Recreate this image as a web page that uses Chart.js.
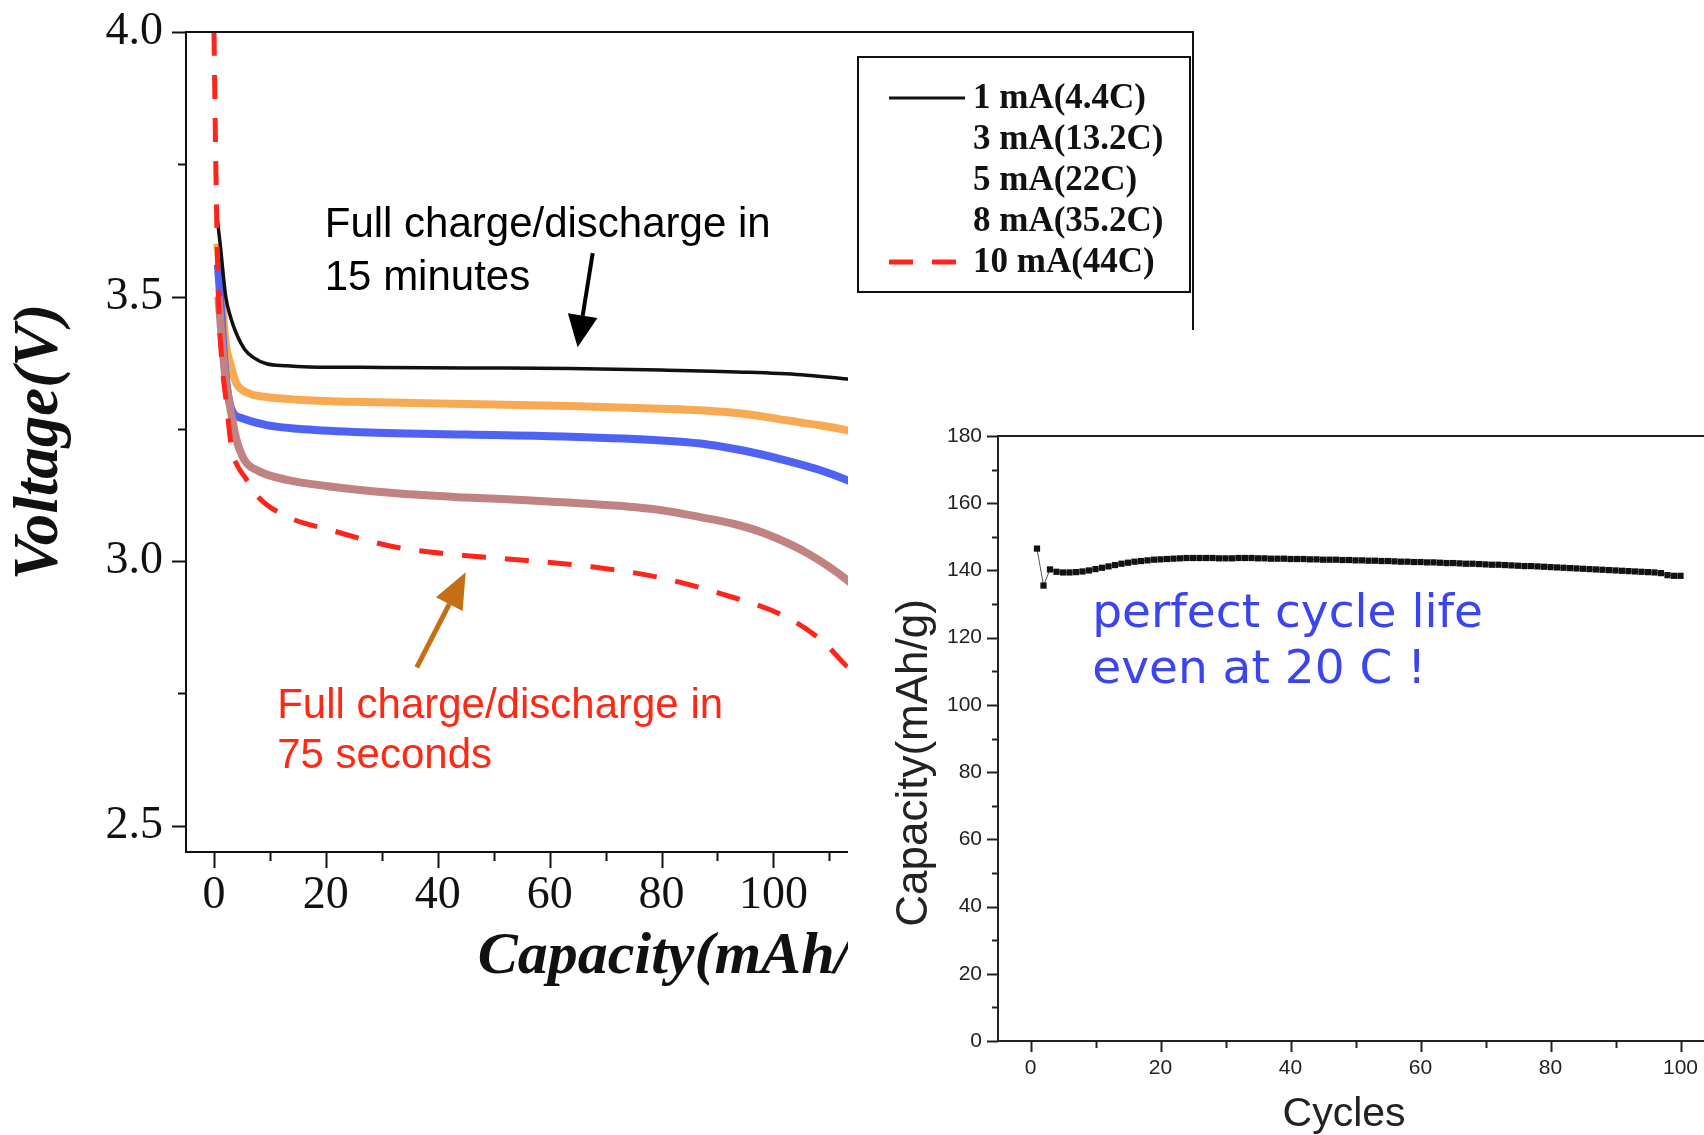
<!DOCTYPE html>
<html>
<head>
<meta charset="utf-8">
<script src="https://cdn.jsdelivr.net/npm/chart.js@4.4.1/dist/chart.umd.min.js"></script>
<style>
  html, body { margin: 0; padding: 0; background: #fff; overflow: hidden; }
  #lienzo { position: relative; width: 1704px; height: 1135px; overflow: hidden; background: #fff; }
  #voltaje { position: absolute; left: 0; top: 0; }
  #recuadro { position: absolute; left: 848px; top: 330px; width: 900px; height: 809px; background: #fff; }
</style>
</head>
<body>
<div id="lienzo">
  <canvas id="voltaje" width="1704" height="1135"></canvas>
  <div id="recuadro"><canvas id="ciclos" width="900" height="809"></canvas></div>
</div>
<script>
// ---- curvas de descarga (capacidad mAh/g, voltaje V) ----
var nombresSeries = ["1 mA(4.4C)", "3 mA(13.2C)", "5 mA(22C)", "8 mA(35.2C)", "10 mA(44C)"];

var cap1mA = [0.45, 1.1, 2.1, 3, 4, 5.5, 7, 9.4, 13, 17, 30, 45, 63.6, 80, 94.6, 105, 113.2, 120];
var volt1mA = [3.66, 3.6, 3.5, 3.46, 3.43, 3.40, 3.385, 3.373, 3.369, 3.367, 3.366, 3.365, 3.364, 3.361, 3.357, 3.352, 3.344, 3.338];

var cap3mA = [0.6, 1.3, 2, 3, 4, 6, 9.4, 15, 25, 45, 63.6, 80, 87, 95, 102.3, 108, 113.2, 120];
var volt3mA = [3.6, 3.52, 3.42, 3.37, 3.336, 3.318, 3.31, 3.305, 3.301, 3.297, 3.293, 3.288, 3.285, 3.278, 3.266, 3.257, 3.247, 3.23];

var cap5mA = [0.7, 1.3, 2, 3.2, 5, 9.4, 15, 25, 45, 63.6, 80, 87, 94.6, 102.3, 108, 113.2, 120];
var volt5mA = [3.56, 3.47, 3.36, 3.285, 3.27, 3.257, 3.25, 3.244, 3.239, 3.235, 3.228, 3.222, 3.209, 3.19, 3.173, 3.153, 3.12];

var cap8mA = [0.8, 1.4, 2, 2.9, 4, 5.5, 8, 13.3, 20, 32.6, 45, 55.9, 71.4, 80, 86.9, 93, 98.5, 106.2, 113.2, 120];
var volt8mA = [3.5, 3.42, 3.35, 3.29, 3.23, 3.19, 3.17, 3.153, 3.142, 3.128, 3.12, 3.115, 3.105, 3.096, 3.083, 3.07, 3.052, 3.014, 2.964, 2.9];

var cap10mA = [0, 0.4, 0.8, 1.4, 2.2, 3.2, 4.2, 5.5, 8, 13.3, 21, 32.6, 44.3, 55.9, 67.5, 79.1, 90.7, 102.3, 108.6, 113.2, 120];
var volt10mA = [4.0, 3.7, 3.5, 3.38, 3.30, 3.21, 3.18, 3.159, 3.12, 3.083, 3.058, 3.026, 3.011, 3.001, 2.989, 2.970, 2.938, 2.894, 2.85, 2.80, 2.73];

var marcasVoltaje = [2.5, 2.75, 3.0, 3.25, 3.5, 3.75, 4.0];
var marcasCapacidad = [0, 10, 20, 30, 40, 50, 60, 70, 80, 90, 100, 110, 120, 130, 140, 150, 160, 170];

// ---- ciclado a 20 C ----
var ciclos = [1, 2, 3, 4, 5, 6, 7, 8, 9, 10, 11, 12, 13, 14, 15, 16, 17, 18, 19, 20,
  21, 22, 23, 24, 25, 26, 27, 28, 29, 30, 31, 32, 33, 34, 35, 36, 37, 38, 39, 40,
  41, 42, 43, 44, 45, 46, 47, 48, 49, 50, 51, 52, 53, 54, 55, 56, 57, 58, 59, 60,
  61, 62, 63, 64, 65, 66, 67, 68, 69, 70, 71, 72, 73, 74, 75, 76, 77, 78, 79, 80,
  81, 82, 83, 84, 85, 86, 87, 88, 89, 90, 91, 92, 93, 94, 95, 96, 97, 98, 99, 100];
var capacidadCiclo = [146.5, 135.5, 140.3, 139.6, 139.4, 139.4, 139.5, 139.7, 140.0, 140.4,
  140.8, 141.2, 141.6, 142.0, 142.3, 142.6, 142.8, 143.0, 143.2, 143.3,
  143.4, 143.5, 143.6, 143.7, 143.7, 143.7, 143.7, 143.7, 143.6, 143.6,
  143.6, 143.7, 143.7, 143.7, 143.6, 143.6, 143.5, 143.5, 143.5, 143.4,
  143.4, 143.4, 143.3, 143.3, 143.2, 143.2, 143.2, 143.1, 143.1, 143.0,
  143.0, 142.9, 142.9, 142.8, 142.8, 142.7, 142.6, 142.6, 142.5, 142.5,
  142.4, 142.4, 142.3, 142.2, 142.2, 142.1, 142.0, 142.0, 141.9, 141.8,
  141.7, 141.7, 141.6, 141.5, 141.4, 141.3, 141.3, 141.2, 141.1, 141.0,
  140.9, 140.8, 140.7, 140.6, 140.5, 140.4, 140.3, 140.2, 140.1, 140.0,
  139.9, 139.8, 139.7, 139.6, 139.5, 139.4, 139.2, 138.6, 138.4, 138.4];
var marcasCiclo = [0, 10, 20, 30, 40, 50, 60, 70, 80, 90, 100];
var marcasCapCiclo = [0, 10, 20, 30, 40, 50, 60, 70, 80, 90, 100, 110, 120, 130, 140, 150, 160, 170, 180];

function puntos(xs, ys) {
  return xs.map(function (x, i) {
    return { x: x, y: ys[i] };
  });
}

function esMayor(v, paso) {
  return Math.abs(v / paso - Math.round(v / paso)) < 1e-6;
}

function flecha(ctx, x1, y1, x2, y2, color, grosor, largo, ancho) {
  var ang = Math.atan2(y2 - y1, x2 - x1);
  var bx = x2 - largo * Math.cos(ang);
  var by = y2 - largo * Math.sin(ang);
  ctx.save();
  ctx.strokeStyle = color;
  ctx.fillStyle = color;
  ctx.lineWidth = grosor;
  ctx.beginPath();
  ctx.moveTo(x1, y1);
  ctx.lineTo(bx, by);
  ctx.stroke();
  ctx.beginPath();
  ctx.moveTo(x2, y2);
  ctx.lineTo(bx + (ancho / 2) * Math.sin(ang), by - (ancho / 2) * Math.cos(ang));
  ctx.lineTo(bx - (ancho / 2) * Math.sin(ang), by + (ancho / 2) * Math.cos(ang));
  ctx.closePath();
  ctx.fill();
  ctx.restore();
}

// marcas de eje mayores y menores (Chart.js solo tiene un largo)
var marcasPlugin = {
  id: "marcas",
  afterDraw: function (chart, args, opts) {
    var ctx = chart.ctx;
    ctx.save();
    ctx.strokeStyle = opts.color;
    ctx.lineWidth = opts.grosor;
    var sx = chart.scales.x, sy = chart.scales.y;
    sx.ticks.forEach(function (t) {
      var px = Math.round(sx.getPixelForValue(t.value)) + 0.5;
      var l = esMayor(t.value, opts.pasoX) ? opts.mayorX : opts.menorX;
      ctx.beginPath();
      ctx.moveTo(px, sx.top);
      ctx.lineTo(px, sx.top + l);
      ctx.stroke();
    });
    sy.ticks.forEach(function (t) {
      var py = Math.round(sy.getPixelForValue(t.value)) + 0.5;
      var l = esMayor(t.value, opts.pasoY) ? opts.mayorY : opts.menorY;
      ctx.beginPath();
      ctx.moveTo(sy.right, py);
      ctx.lineTo(sy.right - l, py);
      ctx.stroke();
    });
    ctx.restore();
  }
};

var marcoPlugin = {
  id: "marco",
  afterDraw: function (chart, args, opts) {
    var a = chart.chartArea, ctx = chart.ctx;
    ctx.save();
    ctx.strokeStyle = opts.color;
    ctx.lineWidth = opts.grosor;
    ctx.beginPath();
    ctx.moveTo(a.left, a.top);
    ctx.lineTo(a.right, a.top);
    if (opts.derecha) ctx.lineTo(a.right, a.bottom);
    ctx.stroke();
    ctx.restore();
  }
};

var leyendaPlugin = {
  id: "leyendaCaja",
  afterDraw: function (chart) {
    var a = chart.chartArea, ctx = chart.ctx;
    var x0 = a.right - 335, y0 = a.top + 25;
    ctx.save();
    ctx.strokeStyle = "#111";
    ctx.lineWidth = 2;
    ctx.strokeRect(x0, y0, 332, 235);
    ctx.font = "bold 35px 'Liberation Serif'";
    ctx.textBaseline = "middle";
    ctx.fillStyle = "#111";
    chart.data.datasets.forEach(function (ds, i) {
      var y = y0 + 41 + i * 41;
      if (ds.muestra) {
        ctx.strokeStyle = ds.borderColor;
        ctx.lineWidth = ds.muestraGrosor;
        ctx.setLineDash(ds.borderDash || []);
        ctx.beginPath();
        ctx.moveTo(x0 + 31, y);
        ctx.lineTo(x0 + 107, y);
        ctx.stroke();
        ctx.setLineDash([]);
      }
      ctx.fillText(ds.label, x0 + 115, y + 1);
    });
    ctx.restore();
  }
};

var notasPlugin = {
  id: "notas",
  afterDraw: function (chart) {
    var ctx = chart.ctx, sx = chart.scales.x, sy = chart.scales.y;
    ctx.save();
    ctx.font = "42px 'Liberation Sans'";
    ctx.textBaseline = "alphabetic";
    ctx.fillStyle = "#000";
    ctx.fillText("Full charge/discharge in", sx.getPixelForValue(19.8), sy.getPixelForValue(3.612));
    ctx.fillText("15 minutes", sx.getPixelForValue(19.8), sy.getPixelForValue(3.512));
    ctx.fillStyle = "rgb(255,40,20)";
    ctx.fillText("Full charge/discharge in", sx.getPixelForValue(11.3), sy.getPixelForValue(2.704));
    ctx.fillText("75 seconds", sx.getPixelForValue(11.3), sy.getPixelForValue(2.608));
    flecha(ctx, sx.getPixelForValue(67.7), sy.getPixelForValue(3.582), sx.getPixelForValue(65.0), sy.getPixelForValue(3.404), "#000", 4, 32, 30);
    flecha(ctx, sx.getPixelForValue(36.25), sy.getPixelForValue(2.799), sx.getPixelForValue(45.0), sy.getPixelForValue(2.979), "rgb(196,110,22)", 5, 36, 30);
    ctx.restore();
  }
};

var fuenteSerif = "'Liberation Serif', 'Times New Roman', serif";
var fuenteSans = "'Liberation Sans', Arial, sans-serif";

new Chart(document.getElementById("voltaje"), {
  type: "line",
  data: {
    datasets: [
      { label: nombresSeries[0], data: puntos(cap1mA, volt1mA), borderColor: "#111", borderWidth: 3.5, order: 1, muestra: true, muestraGrosor: 3 },
      { label: nombresSeries[1], data: puntos(cap3mA, volt3mA), borderColor: "rgb(248,170,82)", borderWidth: 8, order: 4 },
      { label: nombresSeries[2], data: puntos(cap5mA, volt5mA), borderColor: "rgb(80,98,244)", borderWidth: 8, order: 3 },
      { label: nombresSeries[3], data: puntos(cap8mA, volt8mA), borderColor: "rgb(192,130,130)", borderWidth: 8, order: 2 },
      { label: nombresSeries[4], data: puntos(cap10mA, volt10mA), borderColor: "rgb(255,36,28)", borderWidth: 5, borderDash: [24, 19], order: 0, muestra: true, muestraGrosor: 5 }
    ]
  },
  options: {
    responsive: false,
    animation: false,
    layout: { padding: { left: 0, top: 32, right: 511, bottom: 0 } },
    elements: {
      point: { radius: 0 },
      line: { cubicInterpolationMode: "monotone", fill: false }
    },
    plugins: {
      legend: { display: false },
      tooltip: { enabled: false },
      marcas: { color: "#111", grosor: 2, pasoX: 20, mayorX: 16, menorX: 9, pasoY: 0.5, mayorY: 14, menorY: 8 },
      marco: { color: "#111", grosor: 2, derecha: true }
    },
    scales: {
      x: {
        type: "linear",
        min: -5,
        max: 175,
        afterFit: function (s) { s.height = 283; s.paddingLeft = 0; s.paddingRight = 0; },
        afterBuildTicks: function (s) { s.ticks = marcasCapacidad.map(function (v) { return { value: v }; }); },
        border: { color: "#111", width: 2 },
        grid: { display: false, drawTicks: false },
        ticks: {
          autoSkip: false,
          maxRotation: 0,
          padding: 16,
          color: "#111",
          font: { family: fuenteSerif, size: 46 },
          callback: function (v) { return esMayor(v, 20) ? String(v) : ""; }
        },
        title: {
          display: true,
          text: "Capacity(mAh/g)",
          color: "#111",
          font: { family: fuenteSerif, size: 60, style: "italic", weight: "bold" },
          padding: { top: 0, bottom: 142 }
        }
      },
      y: {
        type: "linear",
        min: 2.45,
        max: 4.0,
        afterFit: function (s) { s.width = 186; s.paddingTop = 0; s.paddingBottom = 0; },
        afterBuildTicks: function (s) { s.ticks = marcasVoltaje.map(function (v) { return { value: v }; }); },
        border: { color: "#111", width: 2 },
        grid: { display: false, drawTicks: false },
        ticks: {
          autoSkip: false,
          padding: 23,
          color: "#111",
          font: { family: fuenteSerif, size: 46 },
          callback: function (v) { return esMayor(v, 0.5) ? v.toFixed(1) : ""; }
        },
        title: {
          display: true,
          text: "Voltage(V)",
          color: "#111",
          font: { family: fuenteSerif, size: 63, style: "italic", weight: "bold" },
          padding: { top: 3, bottom: 0 }
        }
      }
    }
  },
  plugins: [marcasPlugin, marcoPlugin, leyendaPlugin, notasPlugin]
});

var textoCicloPlugin = {
  id: "textoCiclo",
  afterDraw: function (chart) {
    var ctx = chart.ctx, sx = chart.scales.x, sy = chart.scales.y;
    ctx.save();
    ctx.font = "47px 'DejaVu Sans'";
    ctx.fillStyle = "rgb(58,68,240)";
    ctx.textBaseline = "alphabetic";
    ctx.fillText("perfect cycle life", sx.getPixelForValue(9.5), sy.getPixelForValue(123.2));
    ctx.fillText("even at 20 C !", sx.getPixelForValue(9.5), sy.getPixelForValue(106.5));
    ctx.restore();
  }
};

new Chart(document.getElementById("ciclos"), {
  type: "line",
  data: {
    datasets: [{
      label: "20 C",
      data: puntos(ciclos, capacidadCiclo),
      borderColor: "#555",
      borderWidth: 1,
      tension: 0,
      pointStyle: "rect",
      pointRadius: 4.4,
      pointBorderWidth: 0,
      pointBackgroundColor: "#111"
    }]
  },
  options: {
    responsive: false,
    animation: false,
    layout: { padding: { left: 0, top: 106, right: 35, bottom: 0 } },
    plugins: {
      legend: { display: false },
      tooltip: { enabled: false },
      marcas: { color: "#222", grosor: 2, pasoX: 20, mayorX: 11, menorX: 7, pasoY: 20, mayorY: 11, menorY: 6 },
      marco: { color: "#222", grosor: 2, derecha: false }
    },
    scales: {
      x: {
        type: "linear",
        min: -5,
        max: 105,
        afterFit: function (s) { s.height = 98; },
        afterBuildTicks: function (s) { s.ticks = marcasCiclo.map(function (v) { return { value: v }; }); },
        border: { color: "#222", width: 2 },
        grid: { display: false, drawTicks: false },
        ticks: {
          autoSkip: false,
          maxRotation: 0,
          padding: 15,
          color: "#222",
          font: { family: fuenteSans, size: 21 },
          callback: function (v) { return esMayor(v, 20) ? String(v) : ""; }
        },
        title: {
          display: true,
          text: "Cycles  ",
          color: "#222",
          font: { family: fuenteSans, size: 41 },
          padding: { top: 0, bottom: 0 }
        }
      },
      y: {
        type: "linear",
        min: 0,
        max: 180,
        afterFit: function (s) { s.width = 150; },
        afterBuildTicks: function (s) { s.ticks = marcasCapCiclo.map(function (v) { return { value: v }; }); },
        border: { color: "#222", width: 2 },
        grid: { display: false, drawTicks: false },
        ticks: {
          autoSkip: false,
          padding: 16,
          color: "#222",
          font: { family: fuenteSans, size: 21 },
          callback: function (v) { return esMayor(v, 20) ? String(v) : ""; }
        },
        title: {
          display: true,
          // los espacios finales bajan el texto como en el original
          text: "Capacity(mAh/g)    ",
          color: "#222",
          font: { family: fuenteSans, size: 44 },
          padding: { top: 40, bottom: 0 }
        }
      }
    }
  },
  plugins: [marcasPlugin, marcoPlugin, textoCicloPlugin]
});
</script>
</body>
</html>
